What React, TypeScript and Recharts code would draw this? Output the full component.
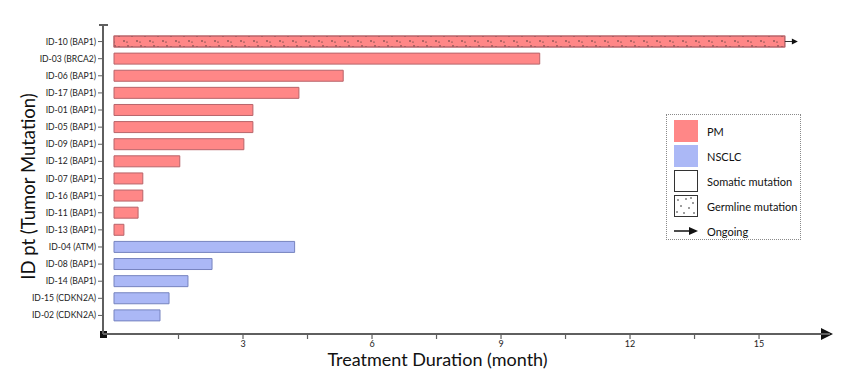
import { BarChart, Bar, XAxis, YAxis, Cell, Rectangle } from 'recharts';

document.body.style.margin = '0';

const patients = [
  'ID-10 (BAP1)', 'ID-03 (BRCA2)', 'ID-06 (BAP1)', 'ID-17 (BAP1)', 'ID-01 (BAP1)',
  'ID-05 (BAP1)', 'ID-09 (BAP1)', 'ID-12 (BAP1)', 'ID-07 (BAP1)', 'ID-16 (BAP1)',
  'ID-11 (BAP1)', 'ID-13 (BAP1)', 'ID-04 (ATM)', 'ID-08 (BAP1)', 'ID-14 (BAP1)',
  'ID-15 (CDKN2A)', 'ID-02 (CDKN2A)',
];
const months = [15.6, 9.9, 5.33, 4.3, 3.23, 3.23, 3.02, 1.53, 0.67, 0.67, 0.56, 0.23, 4.2, 2.28, 1.72, 1.28, 1.07];
const tumor = ['PM', 'PM', 'PM', 'PM', 'PM', 'PM', 'PM', 'PM', 'PM', 'PM', 'PM', 'PM', 'NSCLC', 'NSCLC', 'NSCLC', 'NSCLC', 'NSCLC'];
const germline = ['ID-10 (BAP1)'];
const ongoing = ['ID-10 (BAP1)'];
const xTicks = [1.5, 3, 4.5, 6, 7.5, 9, 10.5, 12, 13.5, 15];

const FILL: Record<string, string> = { PM: '#ff8787', NSCLC: '#abb8f6' };
const STROKE: Record<string, string> = { PM: '#b8646a', NSCLC: '#7683bf' };

const data = patients.map((name, i) => ({
  name,
  value: months[i],
  tumor: tumor[i],
  germline: germline.includes(name),
  ongoing: ongoing.includes(name),
}));

const W = 856;
const H = 384;
const X_H = 40;
const M = { top: 25, right: 26, bottom: 10, left: 0 };
const Y_W = 103;
const AX = '#5f5f5f';
const FONT = 'Lato, sans-serif';

function BarShape(props: any) {
  const { x, y, width, height, payload } = props;
  const cy = y + height / 2;
  return (
    <g>
      <Rectangle {...props} />
      {payload.germline && (
        <rect x={x} y={y} width={width} height={height} fill="url(#dots)" stroke={STROKE[payload.tumor]} />
      )}
      {payload.ongoing && (
        <g>
          <line x1={x + width} y1={cy} x2={x + width + 8} y2={cy} stroke="#333" strokeWidth={1} />
          <polygon points={`${x + width + 7},${cy - 3} ${x + width + 13},${cy} ${x + width + 7},${cy + 3}`} fill="#111" />
        </g>
      )}
    </g>
  );
}

function YTick(props: any) {
  const { x, y, payload } = props;
  return (
    <text x={x} y={y} dy={3} textAnchor="end" fontSize={8.6} fill="#222" fontFamily={FONT}>
      {payload.value}
    </text>
  );
}

function AxisDecor() {
  const left = M.left + Y_W;
  const bottom = H - M.bottom - X_H;
  const right = W - M.right;
  return (
    <g>
      <line x1={left - 4} y1={M.top} x2={left + 5} y2={M.top} stroke={AX} strokeWidth={2} />
      <rect x={left - 3} y={bottom - 3} width={7} height={7} fill="#111" />
      <polygon points={`${right - 9},${bottom - 6} ${right + 3},${bottom} ${right - 9},${bottom + 6}`} fill="#111" />
    </g>
  );
}

const legendRows = [
  { label: 'PM', kind: 'pm' },
  { label: 'NSCLC', kind: 'nsclc' },
  { label: 'Somatic mutation', kind: 'somatic' },
  { label: 'Germline mutation', kind: 'germline' },
  { label: 'Ongoing', kind: 'arrow' },
];

function LegendBox() {
  return (
    <div
      style={{
        position: 'absolute', left: 666, top: 114, width: 135, height: 126,
        border: '1.5px dotted #8a8a8a', boxSizing: 'border-box', fontFamily: FONT,
        fontSize: 11, color: '#111', whiteSpace: 'nowrap',
      }}
    >
      {legendRows.map((r, i) => (
        <div key={r.label} style={{ position: 'absolute', left: 6, top: 5 + i * 25, height: 22, display: 'flex', alignItems: 'center' }}>
          <svg width={26} height={22} style={{ marginRight: 8 }}>
            {r.kind === 'pm' && <rect x={1} y={0} width={24} height={22} fill="#ff8787" />}
            {r.kind === 'nsclc' && <rect x={1} y={0} width={24} height={22} fill="#abb8f6" />}
            {r.kind === 'somatic' && <rect x={1.5} y={0.5} width={23} height={21} fill="#fff" stroke="#333" />}
            {r.kind === 'germline' && (
              <g>
                <rect x={1.5} y={0.5} width={23} height={21} fill="#fff" stroke="#333" />
                {[[5, 5], [13, 4], [20, 8], [8, 11], [16, 13], [4, 17], [11, 18], [21, 18], [18, 3]].map(([a, b], k) => (
                  <circle key={k} cx={a} cy={b} r={0.8} fill="#222" />
                ))}
              </g>
            )}
            {r.kind === 'arrow' && (
              <g>
                <line x1={1} y1={11} x2={18} y2={11} stroke="#111" strokeWidth={1.5} />
                <polygon points="16,7 25,11 16,15" fill="#111" />
              </g>
            )}
          </svg>
          <span>{r.label}</span>
        </div>
      ))}
    </div>
  );
}

export default function App() {
  return (
    <div style={{ position: 'relative', width: W, height: H, background: '#fff' }}>
      <BarChart width={W} height={H} data={data} layout="vertical" margin={M} barCategoryGap={0}>
        <defs>
          <pattern id="dots" width="13" height="11" patternUnits="userSpaceOnUse">
            <circle cx="2" cy="3" r="0.7" fill="#222" />
            <circle cx="7" cy="8" r="0.7" fill="#222" />
            <circle cx="11" cy="2" r="0.7" fill="#222" />
            <circle cx="10" cy="9" r="0.6" fill="#222" />
          </pattern>
        </defs>
        <XAxis
          type="number"
          domain={[0, 16.65]}
          ticks={xTicks}
          height={X_H}
          padding={{ left: 11, right: 0 }}
          tickFormatter={(v: number) => (v % 3 === 0 ? String(v) : '')}
          tick={{ fontSize: 9, fill: '#222', fontFamily: FONT }}
          tickSize={5}
          axisLine={{ stroke: AX, strokeWidth: 2 }}
          tickLine={{ stroke: AX, strokeWidth: 1.2 }}
          label={{
            value: 'Treatment Duration  (month)', position: 'insideBottom', offset: 8, dx: -29,
            style: { fontSize: 18, fill: '#111', fontFamily: FONT, whiteSpace: 'pre' },
          }}
        />
        <YAxis
          type="category"
          dataKey="name"
          width={Y_W}
          padding={{ top: 8, bottom: 10 }}
          interval={0}
          tick={YTick}
          tickSize={5}
          axisLine={{ stroke: AX, strokeWidth: 2 }}
          tickLine={{ stroke: AX, strokeWidth: 1 }}
          label={{
            value: 'ID pt (Tumor Mutation)', angle: -90, position: 'insideLeft', offset: 28, dy: 7,
            style: { fontSize: 18.5, fill: '#111', fontFamily: FONT, textAnchor: 'middle' },
          }}
        />
        <Bar dataKey="value" barSize={11} isAnimationActive={false} shape={BarShape}>
          {data.map((d) => (
            <Cell key={d.name} fill={FILL[d.tumor]} stroke={STROKE[d.tumor]} strokeWidth={1} />
          ))}
        </Bar>
        <AxisDecor />
      </BarChart>
      <LegendBox />
    </div>
  );
}
